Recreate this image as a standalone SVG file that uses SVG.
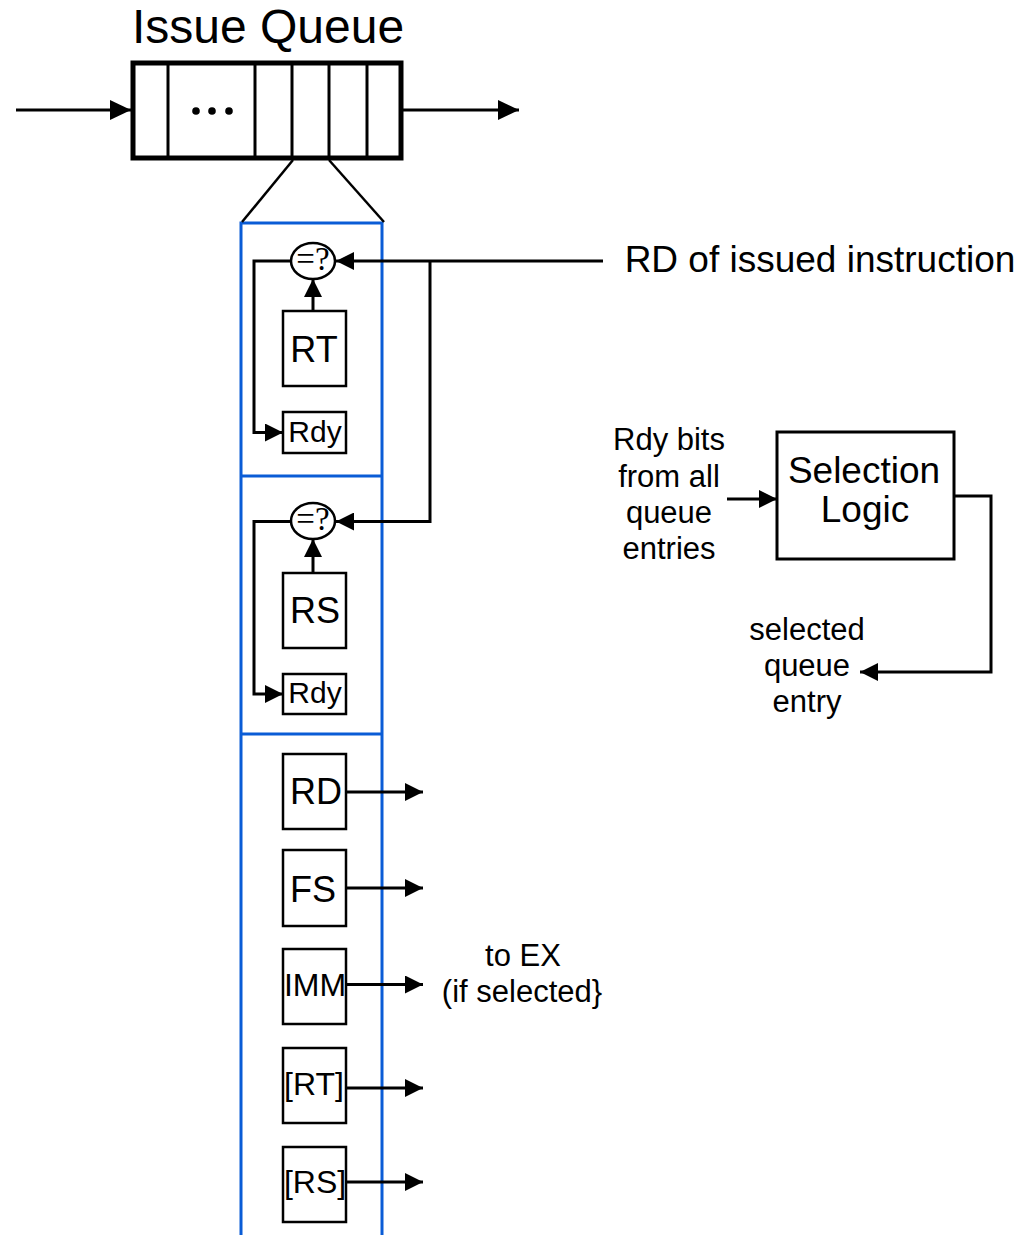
<svg xmlns="http://www.w3.org/2000/svg" width="1021" height="1235" viewBox="0 0 1021 1235">
<style>
text{font-family:"Liberation Sans",Arial,sans-serif;fill:#000}
.ln{fill:none;stroke:#000;stroke-width:3}
.bx{fill:#fff;stroke:#000;stroke-width:2.5}
.blue{fill:none;stroke:#0a5cd6;stroke-width:3}
.t36{font-size:36px;text-anchor:middle}
.t30{font-size:30px;text-anchor:middle}
.t32{font-size:32px;text-anchor:middle}
.t31{font-size:31px;text-anchor:middle}
text.eq{font-family:"Liberation Serif","Times New Roman",serif;font-size:33px;text-anchor:middle}
</style>
<defs>
<marker id="ah" viewBox="0 0 18 18" markerWidth="18" markerHeight="18" refX="18" refY="9" orient="auto" markerUnits="userSpaceOnUse"><path d="M0,0 L18,9 L0,18 z" fill="#000"/></marker>
<marker id="ahb" viewBox="0 0 21 20" markerWidth="21" markerHeight="20" refX="21" refY="10" orient="auto" markerUnits="userSpaceOnUse"><path d="M0,0 L21,10 L0,20 z" fill="#000"/></marker>
</defs>
<rect width="1021" height="1235" fill="#fff"/>

<g id="issue-queue">
<text x="268" y="43" style="font-size:48px;text-anchor:middle">Issue Queue</text>
<rect x="133" y="63" width="268" height="95" fill="#fff" stroke="#000" stroke-width="5"/>
<g stroke="#000" stroke-width="3">
<line x1="168" y1="63" x2="168" y2="158"/>
<line x1="255" y1="63" x2="255" y2="158"/>
<line x1="292" y1="63" x2="292" y2="158"/>
<line x1="329" y1="63" x2="329" y2="158"/>
<line x1="367" y1="63" x2="367" y2="158"/>
</g>
<g fill="#000"><circle cx="196" cy="111" r="3.8"/><circle cx="212" cy="111" r="3.8"/><circle cx="229" cy="111" r="3.8"/></g>
</g>

<g id="entry-column">
<rect class="blue" x="241" y="223" width="141" height="1020"/>
<line class="blue" x1="241" y1="476" x2="382" y2="476"/>
<line class="blue" x1="241" y1="734" x2="382" y2="734"/>
</g>

<g id="cmp1">
<ellipse cx="313" cy="261" rx="22" ry="18" fill="#fff" stroke="#000" stroke-width="2.5"/>
<text class="eq" x="313" y="270">=?</text>
</g>
<g id="rt1"><rect class="bx" x="283" y="311" width="63" height="75"/><text class="t36" x="314" y="362">RT</text></g>
<g id="rdy1"><rect class="bx" x="283" y="412" width="63" height="41"/><text class="t30" x="315" y="442">Rdy</text></g>

<g id="cmp2">
<ellipse cx="313" cy="521" rx="22" ry="18" fill="#fff" stroke="#000" stroke-width="2.5"/>
<text class="eq" x="313" y="530">=?</text>
</g>
<g id="rs1"><rect class="bx" x="283" y="573" width="63" height="75"/><text class="t36" x="315" y="623">RS</text></g>
<g id="rdy2"><rect class="bx" x="283" y="674" width="63" height="40"/><text class="t30" x="315" y="703">Rdy</text></g>

<g id="rd"><rect class="bx" x="283" y="754" width="63" height="75"/><text class="t36" x="316" y="804">RD</text></g>
<g id="fs"><rect class="bx" x="283" y="850" width="63" height="76"/><text class="t36" x="313" y="902">FS</text></g>
<g id="imm"><rect class="bx" x="283" y="949" width="63" height="75"/><text class="t32" x="315" y="996">IMM</text></g>
<g id="rtb"><rect class="bx" x="283" y="1048" width="63" height="75"/><text class="t32" x="314" y="1095">[RT]</text></g>
<g id="rsb"><rect class="bx" x="283" y="1147" width="63" height="75"/><text class="t32" x="315" y="1193">[RS]</text></g>

<g id="selection-logic">
<rect x="777" y="432" width="177" height="127" fill="#fff" stroke="#000" stroke-width="3"/>
<text class="t36" x="864" y="483" style="font-size:37px">Selection</text>
<text class="t36" x="865" y="522" style="font-size:37px">Logic</text>
</g>

<g id="labels">
<text class="t36" x="820" y="272" style="font-size:37px">RD of issued instruction</text>
<text class="t31" x="669" y="450">Rdy bits</text>
<text class="t31" x="669" y="487">from all</text>
<text class="t31" x="669" y="523">queue</text>
<text class="t31" x="669" y="559">entries</text>
<text class="t31" x="807" y="640">selected</text>
<text class="t31" x="807" y="676">queue</text>
<text class="t31" x="807" y="712">entry</text>
<text class="t31" x="523" y="966">to EX</text>
<text class="t31" x="522" y="1002">(if selected}</text>
</g>

<g id="connectors">
<line class="ln" x1="16" y1="110" x2="131" y2="110" marker-end="url(#ahb)"/>
<line class="ln" x1="403" y1="110" x2="519" y2="110" marker-end="url(#ahb)"/>
<line x1="293" y1="160" x2="242" y2="222" stroke="#000" stroke-width="2.5"/>
<line x1="329" y1="160" x2="384" y2="222" stroke="#000" stroke-width="2.5"/>
<path class="ln" d="M603,261 H336" marker-end="url(#ah)"/>
<path class="ln" d="M430,261 V521.5 H336" marker-end="url(#ah)"/>
<path class="ln" d="M291,261 H254 V432.5 H283" marker-end="url(#ah)"/>
<path class="ln" d="M291,521.5 H254 V694 H283" marker-end="url(#ah)"/>
<path class="ln" d="M313,311 V279" marker-end="url(#ah)"/>
<path class="ln" d="M313,573 V539" marker-end="url(#ah)"/>
<path class="ln" d="M346,792 H423" marker-end="url(#ah)"/>
<path class="ln" d="M346,888 H423" marker-end="url(#ah)"/>
<path class="ln" d="M346,984.5 H423" marker-end="url(#ah)"/>
<path class="ln" d="M346,1088 H423" marker-end="url(#ah)"/>
<path class="ln" d="M346,1182 H423" marker-end="url(#ah)"/>
<path class="ln" d="M727,499 H777" marker-end="url(#ah)"/>
<path class="ln" d="M954,496 H991 V672 H860" marker-end="url(#ah)"/>
</g>
</svg>
